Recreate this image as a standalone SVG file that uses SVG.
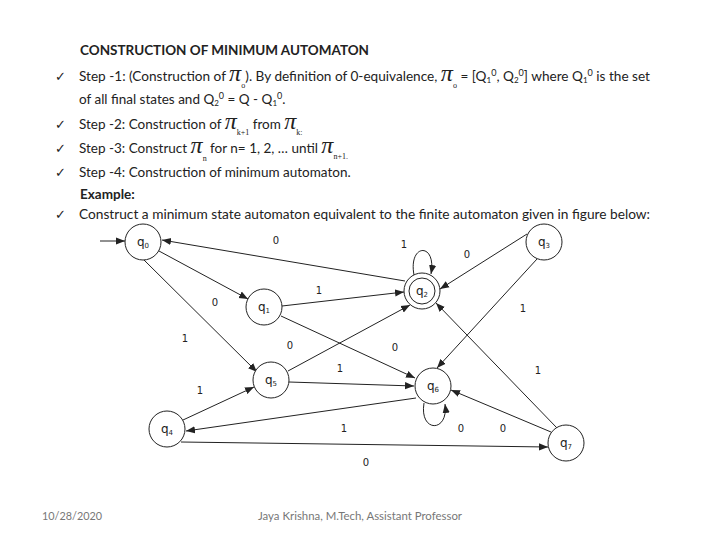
<svg xmlns="http://www.w3.org/2000/svg" width="720" height="540" viewBox="0 0 720 540">
<style>
.t{font-family:Lato,"Open Sans","Liberation Sans",sans-serif;font-size:13.5px;fill:#222}
.b{font-weight:bold}
.ck{font-family:"DejaVu Sans",sans-serif;font-size:13px;fill:#222}
.pi{font-family:"Liberation Serif",serif;font-style:italic;font-size:24px}
.sb{font-family:"Liberation Serif",serif;font-size:8px}
.sub{font-size:8px}
.sup{font-size:9px}
.foot{font-family:Lato,"Liberation Sans",sans-serif;font-size:11px;fill:#777}
.node circle{fill:#fff;stroke:#222;stroke-width:1}
.nl{font-family:"DejaVu Sans",sans-serif;font-size:12px;fill:#222;text-anchor:middle}
.ns{font-size:7px}
.edge{fill:none;stroke:#222;stroke-width:1}
.el{font-family:"DejaVu Sans",sans-serif;font-size:10px;fill:#222;text-anchor:middle}
</style>
<defs>
<marker id="ah" viewBox="0 0 10 10" refX="10" refY="5" markerWidth="9" markerHeight="9" markerUnits="userSpaceOnUse" orient="auto">
<path d="M0,1 L10,5 L0,9 z" fill="#222"/>
</marker>
</defs>
<rect width="720" height="540" fill="#fff"/>

<g id="text">
<text class="t b" x="80" y="55" textLength="289" lengthAdjust="spacingAndGlyphs">CONSTRUCTION OF MINIMUM AUTOMATON</text>

<text class="ck" x="55" y="81">✓</text>
<text class="t" x="79" y="81" textLength="571" lengthAdjust="spacingAndGlyphs">Step -1: (Construction of <tspan class="pi">π</tspan><tspan class="sb" dy="7">o</tspan><tspan dy="-7">). By definition of 0-equivalence, </tspan><tspan class="pi">π</tspan><tspan class="sb" dy="7">o</tspan><tspan dy="-7"> = [Q</tspan><tspan class="sub" dy="2">1</tspan><tspan class="sup" dy="-7">0</tspan><tspan dy="5">, Q</tspan><tspan class="sub" dy="2">2</tspan><tspan class="sup" dy="-7">0</tspan><tspan dy="5">] where Q</tspan><tspan class="sub" dy="2">1</tspan><tspan class="sup" dy="-7">0</tspan><tspan dy="5"> is the set</tspan></text>

<text class="t" x="79" y="104">of all final states and Q<tspan class="sub" dy="2">2</tspan><tspan class="sup" dy="-7">0</tspan><tspan dy="5"> = Q - Q</tspan><tspan class="sub" dy="2">1</tspan><tspan class="sup" dy="-7">0</tspan><tspan dy="5">.</tspan></text>

<text class="ck" x="55" y="129">✓</text>
<text class="t" x="79" y="129">Step -2: Construction of <tspan class="pi">π</tspan><tspan class="sb" dy="6">k+1</tspan><tspan dy="-6"> from </tspan><tspan class="pi">π</tspan><tspan class="sb" dy="6">k:</tspan></text>

<text class="ck" x="55" y="153">✓</text>
<text class="t" x="79" y="153">Step -3: Construct <tspan class="pi">π</tspan><tspan class="sb" dy="8">n</tspan><tspan dy="-8"> for n= 1, 2, … until </tspan><tspan class="pi">π</tspan><tspan class="sb" dy="6">n+1.</tspan></text>

<text class="ck" x="55" y="177">✓</text>
<text class="t" x="79" y="177">Step -4: Construction of minimum automaton.</text>

<text class="t b" x="80" y="199">Example:</text>

<text class="ck" x="55" y="219">✓</text>
<text class="t" x="79" y="219" textLength="571" lengthAdjust="spacingAndGlyphs">Construct a minimum  state automaton equivalent to the finite automaton given in figure below:</text>
</g>

<g id="connectors">
<path class="edge" d="M100,241 L125,241" marker-end="url(#ah)"/>
<path class="edge" d="M405,281 L162,240" marker-end="url(#ah)"/>
<path class="edge" d="M159,251 L248,299" marker-end="url(#ah)"/>
<path class="edge" d="M144,260 L257,372" marker-end="url(#ah)"/>
<path class="edge" d="M282,306 L404,292" marker-end="url(#ah)"/>
<path class="edge" d="M281,316 L415,378" marker-end="url(#ah)"/>
<path class="edge" d="M288,371 L410,305" marker-end="url(#ah)"/>
<path class="edge" d="M414,275 C408,243 437,242,431,274" marker-end="url(#ah)"/>
<path class="edge" d="M527,234 L440,289" marker-end="url(#ah)"/>
<path class="edge" d="M537,259 L437,368" marker-end="url(#ah)"/>
<path class="edge" d="M557,428 L436,303" marker-end="url(#ah)"/>
<path class="edge" d="M289,382 L414,386" marker-end="url(#ah)"/>
<path class="edge" d="M183,420 L254,387" marker-end="url(#ah)"/>
<path class="edge" d="M416,398 L186,431" marker-end="url(#ah)"/>
<path class="edge" d="M181,442 L548,447" marker-end="url(#ah)"/>
<path class="edge" d="M424,403 C419,433 449,433,445,404" marker-end="url(#ah)"/>
<path class="edge" d="M551,432 L451,390" marker-end="url(#ah)"/>

<text class="el" x="276" y="244">0</text>
<text class="el" x="215" y="306">0</text>
<text class="el" x="185" y="342">1</text>
<text class="el" x="319" y="294" font-size="12">1</text>
<text class="el" x="395" y="351">0</text>
<text class="el" x="290" y="349">0</text>
<text class="el" x="404" y="248">1</text>
<text class="el" x="467" y="258">0</text>
<text class="el" x="523" y="312">1</text>
<text class="el" x="538" y="374">1</text>
<text class="el" x="340" y="372">1</text>
<text class="el" x="200" y="394">1</text>
<text class="el" x="344" y="432">1</text>
<text class="el" x="366" y="466">0</text>
<text class="el" x="461" y="432">0</text>
<text class="el" x="503" y="432">0</text>
</g>

<g id="q0" class="node"><circle cx="143" cy="242" r="18"/><text class="nl" x="143" y="246">q<tspan class="ns" dy="2">0</tspan></text></g>
<g id="q1" class="node"><circle cx="264" cy="307" r="18"/><text class="nl" x="264" y="311">q<tspan class="ns" dy="2">1</tspan></text></g>
<g id="q2" class="node"><circle cx="422" cy="291" r="18"/><circle cx="422" cy="291" r="13"/><text class="nl" x="422" y="295">q<tspan class="ns" dy="2">2</tspan></text></g>
<g id="q3" class="node"><circle cx="544" cy="242" r="18"/><text class="nl" x="544" y="246">q<tspan class="ns" dy="2">3</tspan></text></g>
<g id="q4" class="node"><circle cx="167" cy="429" r="18"/><text class="nl" x="167" y="433">q<tspan class="ns" dy="2">4</tspan></text></g>
<g id="q5" class="node"><circle cx="271" cy="380" r="18"/><text class="nl" x="271" y="384">q<tspan class="ns" dy="2">5</tspan></text></g>
<g id="q6" class="node"><circle cx="433" cy="386" r="18"/><text class="nl" x="433" y="390">q<tspan class="ns" dy="2">6</tspan></text></g>
<g id="q7" class="node"><circle cx="566" cy="443" r="18"/><text class="nl" x="566" y="447">q<tspan class="ns" dy="2">7</tspan></text></g>

<g id="footer">
<text class="foot" x="42" y="520" textLength="60" lengthAdjust="spacingAndGlyphs">10/28/2020</text>
<text class="foot" x="258" y="520" textLength="204" lengthAdjust="spacingAndGlyphs">Jaya Krishna, M.Tech, Assistant Professor</text>
</g>
</svg>
